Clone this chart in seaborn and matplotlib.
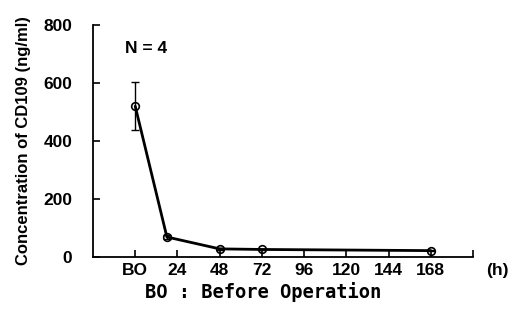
import matplotlib
matplotlib.use("Agg")
import matplotlib.pyplot as plt
import seaborn as sns
import pandas as pd

# values
hours = [0, 18, 48, 72, 168]
conc = [520, 69, 28, 26, 22]
err = [82, 8, 3, 3, 3]
tick_pos = [0, 24, 48, 72, 96, 120, 144, 168, 192]
tick_lab = ["BO", "24", "48", "72", "96", "120", "144", "168", ""]

df = pd.DataFrame({"hour": hours, "conc": conc, "err": err})

sns.set_style("ticks")
plt.rcParams["font.family"] = ["Liberation Sans", "DejaVu Sans"]
plt.rcParams["text.color"] = "black"
plt.rcParams["axes.labelcolor"] = "black"
plt.rcParams["xtick.color"] = "black"
plt.rcParams["ytick.color"] = "black"

fig = plt.figure(figsize=(5.12, 3.28), dpi=100)
ax = fig.add_axes([93 / 512, 1 - 257 / 328, 380 / 512, 232 / 328])

ax.errorbar(df["hour"], df["conc"], yerr=df["err"], fmt="none",
            ecolor="black", elinewidth=1, capsize=3, capthick=1, zorder=2)
sns.lineplot(data=df, x="hour", y="conc", ax=ax, color="black", linewidth=2,
             marker="o", markersize=5.5, markerfacecolor="none",
             markeredgecolor="black", markeredgewidth=1.2, zorder=3)

ax.set_xlim(-24, 192)
ax.set_ylim(0, 800)
ax.set_xticks(tick_pos)
ax.set_xticklabels(tick_lab, fontsize=12.5, fontweight="bold")
ax.set_yticks([0, 200, 400, 600, 800])
ax.set_yticklabels(["0", "200", "400", "600", "800"], fontsize=12.5, fontweight="bold")
ax.tick_params(direction="in", length=5, width=1.2, color="black")
ax.tick_params(axis="x", pad=4)
ax.tick_params(axis="y", pad=15)
ax.set_xlabel("")
ax.set_ylabel("Concentration of CD109 (ng/ml)", fontsize=12, fontweight="bold", labelpad=9)
for s in ["left", "bottom"]:
    ax.spines[s].set_linewidth(1.3)
    ax.spines[s].set_color("black")
sns.despine(ax=ax)

ax.text(6, 718, "N = 4", ha="center", va="center", fontsize=12.5, fontweight="bold")
fig.text(497 / 512, 1 - 270 / 328, "(h)", ha="center", va="center",
         fontsize=12.5, fontweight="bold")
fig.text(145 / 512, 1 - 292 / 328, "BO : Before Operation", ha="left", va="center",
         fontsize=13.5, fontweight="bold", family=["DejaVu Sans Mono"])

fig.savefig("out.png", dpi=100)
